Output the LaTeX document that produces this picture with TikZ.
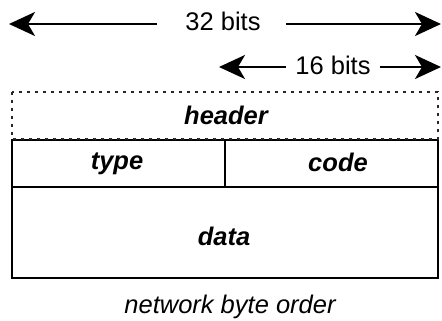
\documentclass[tikz,border=0pt]{standalone}
\usepackage{fontspec}
\setmainfont{Liberation Sans}
\usetikzlibrary{arrows.meta}
\begin{document}
\begin{tikzpicture}[x=1pt,y=-1pt,
  field/.style={draw=black,line width=2.4pt},
  dotbox/.style={draw=black!85,line width=2.6pt,dash pattern=on 2.6pt off 5.4pt},
  fieldlabel/.style={font=\fontsize{25.5}{30}\selectfont\bfseries\itshape},
  widthlabel/.style={font=\fontsize{25.5}{30}\selectfont,inner sep=0pt},
  dimarrow/.style={line width=2.4pt,-{Stealth[length=26pt,width=24pt,inset=7pt]}}]
\useasboundingbox (0,0) rectangle (442,321);

% width markers
\node[widthlabel] (w32) at (223,21) {32 bits};
\node[widthlabel] (w16) at (333,65) {16 bits};
\coordinate (w32l) at (9,24);
\coordinate (w32r) at (441,24);
\coordinate (w16l) at (219,67);
\coordinate (w16r) at (441,67);
\draw[dimarrow] ([xshift=-28pt]w32.west |- w32l) -- (w32l);
\draw[dimarrow] ([xshift=25pt]w32.east |- w32r) -- (w32r);
\draw[dimarrow] ([xshift=-9pt]w16.west |- w16l) -- (w16l);
\draw[dimarrow] ([xshift=9pt]w16.east |- w16r) -- (w16r);

% packet fields
\draw[field] (12,140) rectangle (225,187);
\draw[field] (225,140) rectangle (438,187);
\draw[field] (12,187) rectangle (438,278);
\draw[dotbox] (12,92) rectangle (438,139);

\node[fieldlabel] (hdr) at (226,115) {header};
\node[fieldlabel] (typ) at (117,164) {type};
\node[fieldlabel] (cod) at (338,162) {code};
\node[fieldlabel] (dat) at (224,236) {data};

\node[font=\fontsize{25.5}{30}\selectfont\itshape] (ord) at (230,307) {network byte order};
\end{tikzpicture}
\end{document}
